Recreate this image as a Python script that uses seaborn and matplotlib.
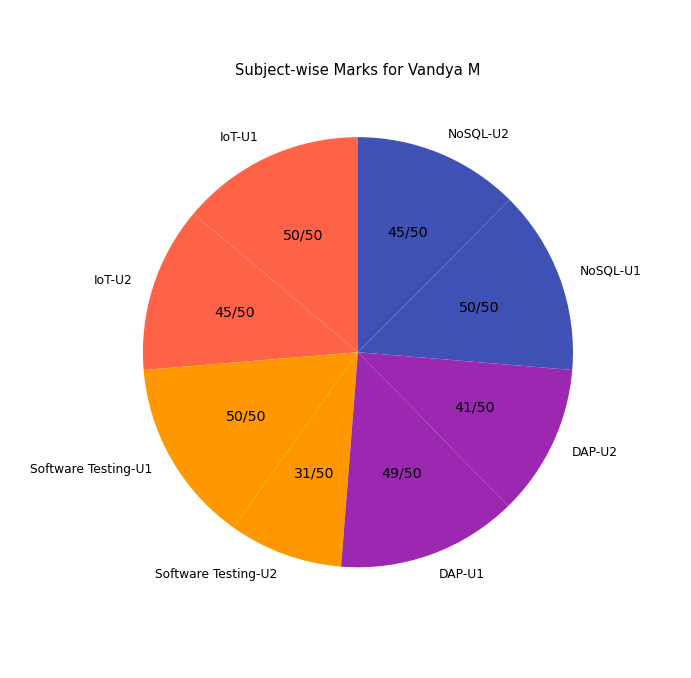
import matplotlib
matplotlib.use("Agg")
import matplotlib.pyplot as plt
import seaborn as sns

subjects = ['IoT-U1', 'IoT-U2', 'Software Testing-U1', 'Software Testing-U2',
            'DAP-U1', 'DAP-U2', 'NoSQL-U1', 'NoSQL-U2']
marks = [50, 45, 50, 31, 49, 41, 50, 45]
max_marks = 50
slice_colors = ['#FF6347', '#FF6347', '#FF9800', '#FF9800',
                '#9C27B0', '#9C27B0', '#3F51B5', '#3F51B5']

# plain matplotlib look (no white wedge edges, black DejaVu text)
sns.reset_orig()
palette = sns.color_palette(slice_colors)

def make_autopct(values):
    total = sum(values)
    def fmt(pct):
        val = int(round(pct * total / 100.0))
        return f"{val}/{max_marks}"
    return fmt

fig = plt.figure(figsize=(6.91, 6.78), dpi=100)
ax = fig.add_axes([0.129, 0.084, 0.778, 0.793])
wedges, texts, autotexts = ax.pie(marks, labels=subjects, colors=palette,
                                  startangle=90, autopct=make_autopct(marks),
                                  textprops={'fontsize': 8.8})
for t in autotexts:
    t.set_fontsize(10.2)
ax.set_title('Subject-wise Marks for Vandya M', fontsize=10.6)
ax.axis('equal')
ax.set_xlim(-1.25, 1.25)
ax.set_ylim(-1.25, 1.25)

fig.savefig('out.png', dpi=100)
